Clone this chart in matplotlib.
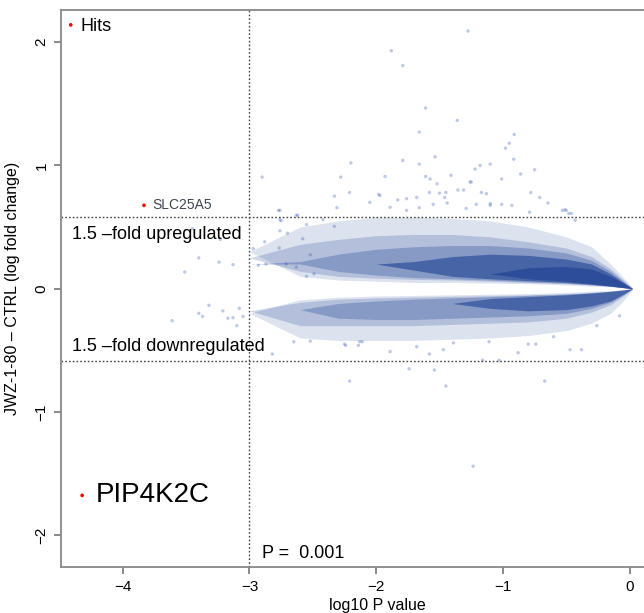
import numpy as np
import matplotlib
matplotlib.use('Agg')
import matplotlib.pyplot as plt

plt.rcParams['font.family'] = ['Liberation Sans', 'DejaVu Sans']

# x positions (log10 P) where the shape of the main point cloud was read
band_x = [-3.0, -2.6, -2.3, -2.0, -1.7, -1.4, -1.1, -0.8, -0.5, -0.3, -0.15, -0.05, 0.02]

# upregulated half of the cloud (log fold change), from sparse edge to dense core
up1_top = [0.30, 0.50, 0.55, 0.58, 0.58, 0.57, 0.55, 0.50, 0.42, 0.34, 0.20, 0.09, 0.01]
up1_bot = [0.30, 0.10, 0.07, 0.06, 0.05, 0.05, 0.045, 0.04, 0.03, 0.02, 0.015, 0.01, 0.0]
up2_top = [0.25, 0.36, 0.40, 0.43, 0.44, 0.44, 0.42, 0.38, 0.33, 0.26, 0.16, 0.07, 0.005]
up2_bot = [0.25, 0.14, 0.10, 0.085, 0.075, 0.07, 0.06, 0.05, 0.04, 0.03, 0.02, 0.01, 0.0]
up3_top = [0.20, 0.22, 0.28, 0.32, 0.34, 0.35, 0.35, 0.33, 0.29, 0.23, 0.14, 0.06, 0.004]
up3_bot = [0.20, 0.20, 0.14, 0.11, 0.09, 0.08, 0.07, 0.055, 0.045, 0.03, 0.02, 0.008, 0.0]
up4_top = [0.20, 0.20, 0.20, 0.20, 0.22, 0.26, 0.28, 0.27, 0.24, 0.20, 0.12, 0.05, 0.003]
up4_bot = [0.20, 0.20, 0.20, 0.20, 0.15, 0.10, 0.08, 0.065, 0.05, 0.035, 0.02, 0.008, 0.0]
up5_top = [0.12, 0.12, 0.12, 0.12, 0.12, 0.12, 0.12, 0.17, 0.18, 0.16, 0.10, 0.045, 0.002]
up5_bot = [0.12, 0.12, 0.12, 0.12, 0.12, 0.12, 0.12, 0.08, 0.06, 0.04, 0.022, 0.008, 0.0]

# downregulated half of the cloud
lo1_top = [-0.20, -0.09, -0.07, -0.06, -0.055, -0.05, -0.045, -0.04, -0.03, -0.02, -0.015, -0.01, 0.0]
lo1_bot = [-0.20, -0.40, -0.42, -0.42, -0.42, -0.41, -0.40, -0.38, -0.34, -0.28, -0.20, -0.10, -0.01]
lo2_top = [-0.18, -0.11, -0.085, -0.075, -0.068, -0.062, -0.056, -0.05, -0.04, -0.03, -0.02, -0.012, 0.0]
lo2_bot = [-0.18, -0.30, -0.30, -0.30, -0.30, -0.29, -0.28, -0.27, -0.24, -0.19, -0.13, -0.06, -0.005]
lo3_top = [-0.17, -0.17, -0.12, -0.10, -0.085, -0.075, -0.065, -0.055, -0.045, -0.035, -0.022, -0.012, 0.0]
lo3_bot = [-0.17, -0.17, -0.24, -0.25, -0.25, -0.24, -0.23, -0.22, -0.20, -0.16, -0.11, -0.05, -0.004]
lo4_top = [-0.12, -0.12, -0.12, -0.12, -0.12, -0.12, -0.08, -0.065, -0.05, -0.035, -0.022, -0.01, 0.0]
lo4_bot = [-0.12, -0.12, -0.12, -0.12, -0.12, -0.12, -0.16, -0.18, -0.17, -0.14, -0.10, -0.045, -0.003]

# isolated genes outside the dense cloud
out_x = [-1.275, -1.88, -1.79, -1.61, -1.36, -1.66, -0.91, -0.95, -0.98, -1.535,
         -2.20, -1.79, -1.66, -0.915, -1.18, -1.10, -1.22, -0.75, -0.86, -2.28,
         -1.93, -1.61, -1.575, -1.41, -1.25, -1.01, -1.52, -2.21, -1.98, -2.05,
         -2.33, -1.83, -1.68, -1.58, -1.45, -1.31, -1.17, -0.78, -0.71, -0.645,
         -1.89, -1.76, -1.66, -1.55, -1.29, -1.21, -1.10, -1.01, -0.93, -0.51,
         -0.48, -2.90, -2.31, -2.76, -2.62, -2.76, -2.55, -2.42, -2.76, -2.70,
         -2.33, -3.40, -3.24, -3.13, -3.51, -3.45, -3.23, -2.97, -2.93, -2.87,
         -2.88, -2.765, -2.77, -2.75, -2.63, -2.58, -2.52, -2.71, -2.63, -2.55,
         -2.49, -3.40, -3.37, -3.32, -3.21, -3.17, -3.13, -3.08, -3.05, -3.10,
         -3.61, -2.82, -2.65, -2.52, -2.21, -1.89, -2.24, -2.14, -2.11, -1.74,
         -1.54, -1.45, -0.67, -1.235, -1.58, -1.16, -1.03, -0.88, -0.74, -0.47,
         -0.38, -2.25, -2.13, -1.68, -1.47, -1.39, -1.11, -0.80, -0.60, -0.26,
         -0.08, -1.26, -1.355, -1.97, -1.76, -1.50, -1.46, -1.44, -1.13, -1.10,
         -0.53, -0.50, -0.46, -0.43, -0.79]
out_y = [2.09, 1.93, 1.81, 1.465, 1.365, 1.27, 1.25, 1.18, 1.14, 1.07,
         1.02, 1.04, 1.01, 1.05, 1.00, 1.01, 0.97, 0.965, 0.93, 0.905,
         0.91, 0.91, 0.89, 0.92, 0.865, 0.89, 0.85, 0.78, 0.765, 0.70,
         0.75, 0.72, 0.74, 0.78, 0.78, 0.80, 0.78, 0.78, 0.74, 0.695,
         0.66, 0.635, 0.657, 0.684, 0.65, 0.684, 0.676, 0.684, 0.676, 0.64,
         0.61, 0.905, 0.657, 0.635, 0.595, 0.56, 0.52, 0.56, 0.47, 0.45,
         0.505, 0.25, 0.215, 0.195, 0.135, 0.487, 0.40, 0.325, 0.19, 0.20,
         0.38, 0.33, 0.635, 0.55, 0.595, 0.405, 0.275, 0.20, 0.175, 0.10,
         0.12, -0.20, -0.225, -0.135, -0.18, -0.24, -0.235, -0.16, -0.225, -0.30,
         -0.26, -0.53, -0.43, -0.425, -0.75, -0.51, -0.46, -0.46, -0.43, -0.65,
         -0.66, -0.79, -0.75, -1.44, -0.53, -0.58, -0.58, -0.52, -0.45, -0.495,
         -0.495, -0.45, -0.43, -0.47, -0.495, -0.44, -0.43, -0.45, -0.39, -0.30,
         -0.22, 0.865, 0.80, 0.755, 0.73, 0.775, 0.74, 0.695, 0.77, 0.69,
         0.635, 0.635, 0.61, 0.555, 0.62]

# hits
hit_x = [-4.32, -3.832]
hit_y = [-1.677, 0.676]

fold_line = np.log2(1.5)
p_line = -3

cloud = '#14388f'

fig = plt.figure(figsize=(6.44, 6.13), dpi=100)
ax = fig.add_axes([0.0947, 0.075, 0.9814, 0.9086])

layers = [(up1_bot, up1_top, 0.14), (up2_bot, up2_top, 0.2),
          (up3_bot, up3_top, 0.28), (up4_bot, up4_top, 0.55),
          (up5_bot, up5_top, 0.5),
          (lo1_bot, lo1_top, 0.14), (lo2_bot, lo2_top, 0.2),
          (lo3_bot, lo3_top, 0.28), (lo4_bot, lo4_top, 0.55)]
for lo, hi, a in layers:
    ax.fill_between(band_x, lo, hi, color=cloud, alpha=a, lw=0)

ax.scatter(out_x, out_y, s=6, color='#2a4fb0', alpha=0.3, edgecolors='none')

ax.scatter(hit_x, hit_y, s=7, color='red', edgecolors='none', zorder=5)
ax.scatter([-4.41], [2.14], s=7, color='red', edgecolors='none', zorder=5)
ax.text(-4.33, 2.13, 'Hits', fontsize=13, va='center', ha='left')
ax.text(-3.77, 0.676, 'SLC25A5', fontsize=10, va='center', ha='left', color='#3e4650')
ax.text(-4.21, -1.677, 'PIP4K2C', fontsize=20, va='center', ha='left')

ax.axhline(fold_line, color='#444444', ls=(0, (1.2, 1.5)), lw=1)
ax.axhline(-fold_line, color='#444444', ls=(0, (1.2, 1.5)), lw=1)
ax.axvline(p_line, color='#444444', ls=(0, (1.2, 1.5)), lw=1)

ax.text(-4.40, 0.44, '1.5 \u2013fold upregulated', fontsize=13, va='center', ha='left')
ax.text(-4.40, -0.47, '1.5 \u2013fold downregulated', fontsize=13, va='center', ha='left')
ax.text(-2.9, -2.15, 'P =  0.001', fontsize=13, va='center', ha='left')

ax.set_xlim(-4.487, 0.5)
ax.set_ylim(-2.258, 2.26)
ax.set_xticks([-4, -3, -2, -1, 0])
ax.set_xticklabels(['\u22124', '\u22123', '\u22122', '\u22121', '0'])
ax.set_yticks([-2, -1, 0, 1, 2])
ax.set_yticklabels(['\u22122', '\u22121', '0', '1', '2'], rotation=90, va='center')
ax.tick_params(labelsize=11, length=5, color='#777777', width=1.2, pad=4)
for s in ['left', 'bottom', 'top']:
    ax.spines[s].set_color('#888888')
    ax.spines[s].set_linewidth(1.3)
ax.spines['right'].set_visible(False)

ax.set_xlabel('log10 P value', fontsize=11.5, labelpad=3)
ax.xaxis.set_label_coords((377 - 61) / (693 - 61), -0.055)
ax.set_ylabel('JWZ-1-80 \u2013 CTRL (log fold change)', fontsize=11.5)
ax.yaxis.set_label_coords(-0.065, 0.5)

fig.savefig('out.png', dpi=100)
